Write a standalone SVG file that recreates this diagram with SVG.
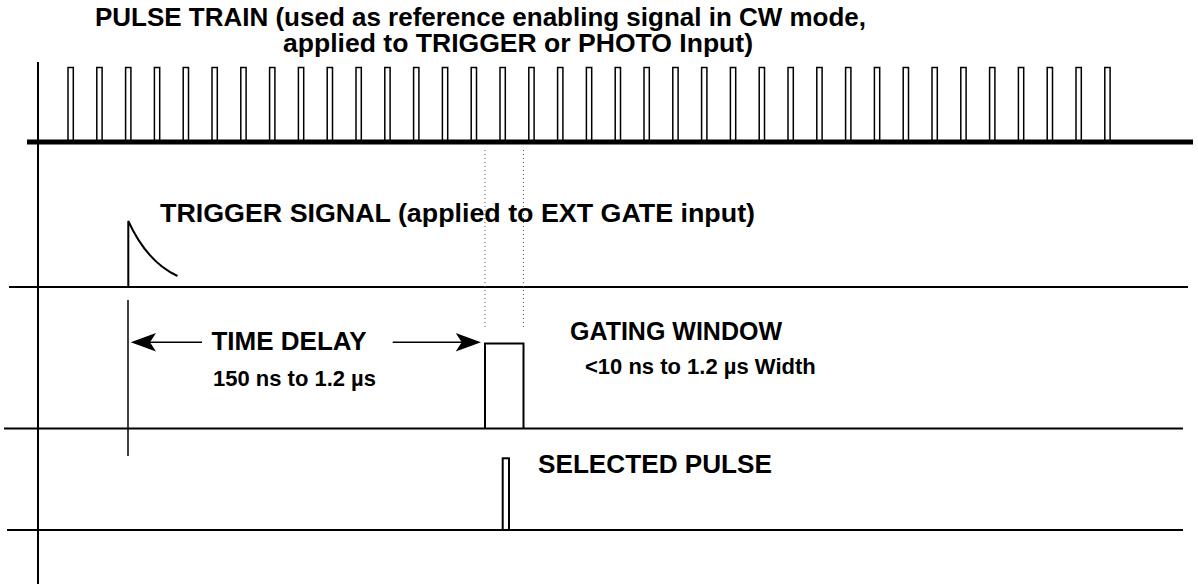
<svg xmlns="http://www.w3.org/2000/svg" width="1198" height="584" viewBox="0 0 1198 584">
<style>
.t{font-family:"Liberation Sans",Arial,sans-serif;font-weight:bold;fill:#000}
.big{font-size:25px}
.sm{font-size:22px}
.ln{stroke:#000;fill:none}
.p{stroke:#000;stroke-width:1.5;fill:#fff}
.dot{stroke:#555;stroke-width:1;stroke-dasharray:1 3;fill:none}
</style>
<defs>
<rect id="pulse" class="p" x="0" y="67.5" width="5.3" height="74.5"/>
</defs>
<rect width="1198" height="584" fill="#fff"/>
<g id="connectors">
<line class="ln" x1="38" y1="62" x2="38" y2="584" stroke-width="2"/>
<line class="ln" x1="9" y1="287" x2="1188" y2="287" stroke-width="2"/>
<line class="ln" x1="4" y1="428.5" x2="1183" y2="428.5" stroke-width="2"/>
<line class="ln" x1="7" y1="530" x2="1183" y2="530" stroke-width="2"/>
<line class="dot" x1="485" y1="150" x2="485" y2="330"/>
<line class="dot" x1="523.5" y1="150" x2="523.5" y2="330"/>
<line class="ln" x1="128" y1="300" x2="128" y2="456" stroke-width="1.5"/>
<line class="ln" x1="150" y1="342.3" x2="202" y2="342.3" stroke-width="1.5"/>
<polygon points="130.7,342.3 156,333 150,342.3 156,351.6" fill="#000"/>
<line class="ln" x1="392.7" y1="342.3" x2="462" y2="342.3" stroke-width="1.5"/>
<polygon points="481,342.3 455.7,333 461.7,342.3 455.7,351.6" fill="#000"/>
</g>
<g id="pulse-train">
<use href="#pulse" x="68.0"/><use href="#pulse" x="96.8"/><use href="#pulse" x="125.6"/><use href="#pulse" x="154.4"/><use href="#pulse" x="183.2"/><use href="#pulse" x="212.0"/><use href="#pulse" x="240.8"/><use href="#pulse" x="269.6"/><use href="#pulse" x="298.4"/><use href="#pulse" x="327.2"/><use href="#pulse" x="356.0"/><use href="#pulse" x="384.8"/><use href="#pulse" x="413.6"/><use href="#pulse" x="442.4"/><use href="#pulse" x="471.2"/><use href="#pulse" x="500.0"/><use href="#pulse" x="528.8"/><use href="#pulse" x="557.6"/><use href="#pulse" x="586.4"/><use href="#pulse" x="615.2"/><use href="#pulse" x="644.0"/><use href="#pulse" x="672.8"/><use href="#pulse" x="701.6"/><use href="#pulse" x="730.4"/><use href="#pulse" x="759.2"/><use href="#pulse" x="788.0"/><use href="#pulse" x="816.8"/><use href="#pulse" x="845.6"/><use href="#pulse" x="874.4"/><use href="#pulse" x="903.2"/><use href="#pulse" x="932.0"/><use href="#pulse" x="960.8"/><use href="#pulse" x="989.6"/><use href="#pulse" x="1018.4"/><use href="#pulse" x="1047.2"/><use href="#pulse" x="1076.0"/><use href="#pulse" x="1104.8"/>
<line class="ln" x1="27" y1="142" x2="1193" y2="142" stroke-width="5"/>
<text class="t big" x="95" y="26" textLength="771" lengthAdjust="spacingAndGlyphs">PULSE TRAIN (used as reference enabling signal in CW mode,</text>
<text class="t big" x="283" y="52" textLength="470" lengthAdjust="spacingAndGlyphs">applied to TRIGGER or PHOTO Input)</text>
</g>
<g id="trigger">
<path class="ln" stroke-width="2" d="M128.3,287 V221 Q147,262 177.5,276"/>
<text class="t big" x="160" y="222" textLength="595" lengthAdjust="spacingAndGlyphs">TRIGGER SIGNAL (applied to EXT GATE input)</text>
</g>
<g id="delay">
<text class="t big" x="211.5" y="350" textLength="155" lengthAdjust="spacingAndGlyphs">TIME DELAY</text>
<text class="t sm" x="213" y="386" textLength="163" lengthAdjust="spacingAndGlyphs">150 ns to 1.2 µs</text>
</g>
<g id="gate">
<path class="ln" stroke-width="2" d="M485,428.5 V343.5 H523.5 V428.5"/>
<text class="t big" x="570" y="340">GATING WINDOW</text>
<text class="t sm" x="585" y="374">&lt;10 ns to 1.2 µs Width</text>
</g>
<g id="selected">
<rect x="502.7" y="458.3" width="6.3" height="71.7" stroke="#000" stroke-width="2" fill="#fff"/>
<text class="t big" x="538" y="473" textLength="234" lengthAdjust="spacingAndGlyphs">SELECTED PULSE</text>
</g>
</svg>
